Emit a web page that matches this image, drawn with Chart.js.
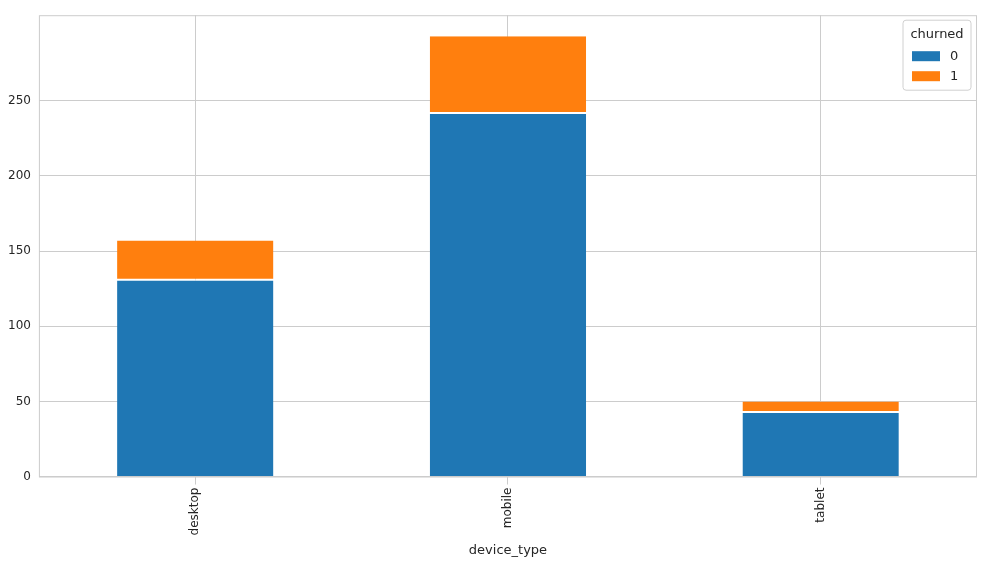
<!DOCTYPE html>
<html><head><meta charset="utf-8">
<script src="https://cdn.jsdelivr.net/npm/chart.js@4/dist/chart.umd.min.js"></script>
<style>body{margin:0;background:#fff}</style>
</head><body>
<canvas id="c" width="986" height="566"></canvas>
<script>
const categories = ['desktop', 'mobile', 'tablet'];
const notChurned = [131, 242, 43];
const churned = [26, 51, 7];
const seriesLabels = ['0', '1'];
const colors = ['#1f77b4', '#ff7f0e'];

const frameAndLegend = {
  id: 'frameAndLegend',
  afterDraw(chart) {
    const { ctx, chartArea: a } = chart;
    ctx.save();
    ctx.strokeStyle = '#cccccc';
    ctx.lineWidth = 1;
    ctx.strokeRect(a.left + 0.5, a.top + 0.5, a.right - a.left - 1, a.bottom - a.top);
    // legend
    const w = 68, h = 70, x = a.right - w - 6, y = a.top + 5;
    ctx.fillStyle = 'rgba(255,255,255,0.85)';
    ctx.strokeStyle = '#d0d0d0';
    ctx.beginPath();
    ctx.roundRect(x, y, w, h, 3);
    ctx.fill(); ctx.stroke();
    ctx.fillStyle = '#262626';
    ctx.font = '13px "DejaVu Sans"';
    ctx.textAlign = 'center';
    ctx.textBaseline = 'middle';
    ctx.fillText('churned', x + w / 2, y + 14);
    ctx.textAlign = 'left';
    seriesLabels.forEach((l, i) => {
      const ry = y + 36 + i * 20;
      ctx.fillStyle = colors[i];
      ctx.fillRect(x + 9, ry - 5, 28, 10);
      ctx.fillStyle = '#262626';
      ctx.fillText(l, x + 47, ry);
    });
    ctx.restore();
  }
};

new Chart(document.getElementById('c'), {
  type: 'bar',
  data: {
    labels: categories,
    datasets: [
      { label: seriesLabels[0], data: notChurned, backgroundColor: colors[0], borderColor: '#ffffff', borderWidth: { top: 1 }, borderSkipped: 'bottom', categoryPercentage: 1, barPercentage: 0.5 },
      { label: seriesLabels[1], data: churned, backgroundColor: colors[1], borderColor: '#ffffff', borderWidth: { top: 0, bottom: 1 }, borderSkipped: 'top', categoryPercentage: 1, barPercentage: 0.5 }
    ]
  },
  options: {
    responsive: false,
    animation: false,
    layout: { padding: { top: 10, right: 9, left: 0, bottom: 4 } },
    plugins: { legend: { display: false }, tooltip: { enabled: false } },
    scales: {
      x: {
        stacked: true,
        grid: { offset: false, color: '#cccccc' },
        border: { display: false },
        ticks: { minRotation: 90, maxRotation: 90, color: '#262626', font: { family: 'DejaVu Sans', size: 12 } },
        title: { display: true, text: 'device_type', color: '#262626', font: { family: 'DejaVu Sans', size: 13 } }
      },
      y: {
        stacked: true,
        min: 0, max: 307,
        grid: { color: (c) => (c.tick && c.tick.value % 50 === 0) ? '#cccccc' : 'rgba(0,0,0,0)', drawTicks: false },
        border: { display: false },
        ticks: { stepSize: 50, padding: 8, color: '#262626', font: { family: 'DejaVu Sans', size: 12 },
          callback: (v) => v % 50 === 0 ? v : '' }
      }
    }
  },
  plugins: [frameAndLegend]
});
</script>
</body></html>
